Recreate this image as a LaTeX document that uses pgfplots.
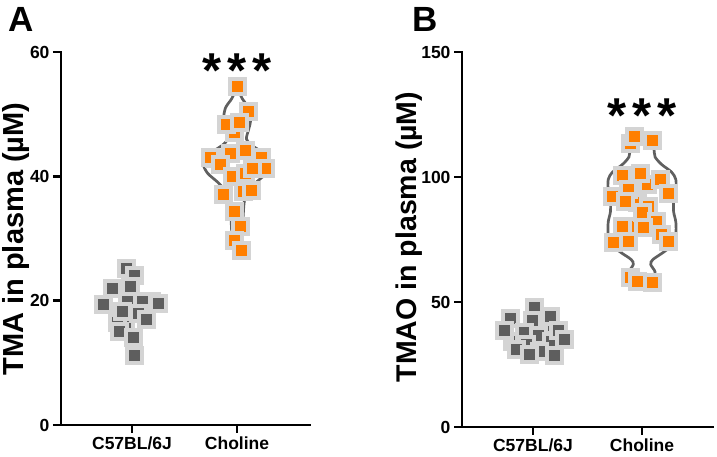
\documentclass[border=0pt]{standalone}
\usepackage{fontspec}
\setmainfont{Liberation Sans}
\usepackage{pgfplots}
\pgfplotsset{compat=1.18}
\definecolor{myorange}{HTML}{FF7F00}
\definecolor{mydark}{HTML}{5E5E5E}
\definecolor{myborder}{HTML}{D4D4D4}
\definecolor{myviolin}{HTML}{606060}
\pgfplotsset{
 pts/.style={only marks, mark=square*, mark size=7.5pt, mark options={solid, line width=4pt, draw=myborder, fill=#1}},
 vio/.style={smooth, line width=2.7pt, color=myviolin, no marks},
}
\newcommand{\stars}{*\hspace{6pt}*\hspace{6pt}*}
\begin{document}
\begin{tikzpicture}
\useasboundingbox (0,0) rectangle (717pt,457pt);
% Panel A
\begin{axis}[name=pA, scale only axis, anchor=south west, at={(61pt,32pt)}, width=249pt, height=373pt,
  axis lines=left, axis line style={-, line width=2.7pt, black},
  tick style={line width=2.7pt, black}, tick align=outside, major tick length=8pt,
  xtick={0,1}, xticklabels={C57BL/6J, Choline},
  ticklabel style={font=\fontsize{17.5}{17.5}\selectfont\bfseries},
  /pgf/number format/assume math mode=true,
  xmin=-0.676, xmax=1.695, ymin=0, ymax=60, ytick={0,20,40,60}]
\addplot[vio] coordinates {(1.01,54) (1.05,52.5) (1.11,51) (1.13,49) (1.11,47.5) (1.09,46) (1.14,45) (1.27,43.5) (1.32,42) (1.28,40.5) (1.18,39) (1.10,37.5) (1.07,36) (1.06,34) (1.05,31) (1.04,29) (1.01,27.5)};
\addplot[vio] coordinates {(0.99,54) (0.95,52.5) (0.89,51) (0.87,49) (0.89,47.5) (0.91,46) (0.86,45) (0.73,43.5) (0.68,42) (0.72,40.5) (0.82,39) (0.90,37.5) (0.93,36) (0.94,34) (0.95,31) (0.96,29) (0.99,27.5)};
\addplot[pts=mydark] coordinates {(-0.04,20.0) (-0.06,16.5) (0.19,19.8) (-0.14,16.5)
 (-0.05,25.1) (0.02,24.0) (-0.19,21.9) (-0.01,22.2) (-0.27,19.4) (0.10,19.9) (0.25,19.5) (-0.09,18.3) (0.06,18.0) (0.14,16.9) (-0.12,15.0) (0.01,14.1) (0.02,11.2)};
\addplot[pts=myorange] coordinates {(0.98,47.1) (0.79,42.8) (1.06,37.5)
 (1.00,54.5) (1.11,50.5) (0.90,48.4) (1.02,48.7) (0.75,43.1) (0.94,43.6) (1.08,44.1) (1.23,43.1) (0.84,41.9) (1.27,41.3) (0.96,40.0) (1.08,40.4) (1.15,41.3) (0.87,37.1) (1.14,37.8) (0.98,34.4) (1.03,32.0) (0.98,29.6) (1.04,28.0)};
\node[font=\fontsize{49}{49}\selectfont\bfseries, anchor=base] at (axis cs:1,54.3) {\stars};
\end{axis}
\draw[line width=2.7pt, black, line cap=rect, line join=miter] (pA.north west) -- (pA.south west) -- (pA.south east);
% Panel B
\begin{axis}[name=pB, scale only axis, anchor=south west, at={(462pt,30pt)}, width=251pt, height=375pt,
  axis lines=left, axis line style={-, line width=2.7pt, black},
  tick style={line width=2.7pt, black}, tick align=outside, major tick length=8pt,
  xtick={0,1}, xticklabels={C57BL/6J, Choline},
  ticklabel style={font=\fontsize{17.5}{17.5}\selectfont\bfseries},
  /pgf/number format/assume math mode=true,
  xmin=-0.651, xmax=1.651, ymin=0, ymax=150, ytick={0,50,100,150}]
\addplot[vio] coordinates {(1.02,117)(1.08,114)(1.11,111)(1.12,108)(1.18,105)(1.27,102)(1.31,99)(1.31,94)(1.29,90)(1.29,86)(1.31,82)(1.31,77)(1.28,73)(1.20,70)(1.10,67)(1.08,65)(1.12,62)(1.10,59)(1.03,57)};
\addplot[vio] coordinates {(0.98,117)(0.92,114)(0.89,111)(0.88,108)(0.82,105)(0.73,102)(0.69,99)(0.69,94)(0.71,90)(0.71,86)(0.69,82)(0.69,77)(0.72,73)(0.80,70)(0.90,67)(0.92,65)(0.88,62)(0.90,59)(0.97,57)};
\addplot[pts=mydark] coordinates {(0.01,47.6) (-0.19,34.0) (0.14,40.5)
 (-0.21,43.2) (0.00,42.6) (0.16,44.0) (-0.08,37.6) (0.05,36.6) (0.17,34.0) (-0.26,38.4) (0.23,38.4) (-0.06,32.8) (0.20,28.4) (-0.15,30.8) (0.06,30.0) (0.29,34.8) (-0.03,28.8)};
\addplot[pts=myorange] coordinates {(0.96,89.6) (1.05,96.8) (0.92,80.0)
 (0.89,113.2) (0.93,116.0) (1.10,114.4) (0.82,100.4) (0.99,101.2) (1.17,98.8) (0.88,94.8) (0.73,92.0) (0.85,90.0) (1.24,93.2) (1.06,88.0) (1.00,85.6) (1.13,82.0) (0.82,80.0) (1.01,79.6) (0.74,73.6) (0.88,74.0) (1.18,76.8) (1.24,74.0) (0.89,59.6) (0.96,58.0) (1.10,57.6)};
\node[font=\fontsize{49}{49}\selectfont\bfseries, anchor=base] at (axis cs:1,117.8) {\stars};
\end{axis}
\draw[line width=2.7pt, black, line cap=rect, line join=miter] (pB.north west) -- (pB.south west) -- (pB.south east);
\node[font=\fontsize{29}{29}\selectfont\bfseries, rotate=90] at (16pt,218pt) {TMA in plasma (µM)};
\node[font=\fontsize{28.5}{28.5}\selectfont\bfseries, rotate=90] at (409pt,220pt) {TMAO in plasma (µM)};
\node[font=\fontsize{35}{35}\selectfont\bfseries] at (21pt,438pt) {A};
\node[font=\fontsize{35}{35}\selectfont\bfseries] at (425pt,438pt) {B};
\end{tikzpicture}
\end{document}
